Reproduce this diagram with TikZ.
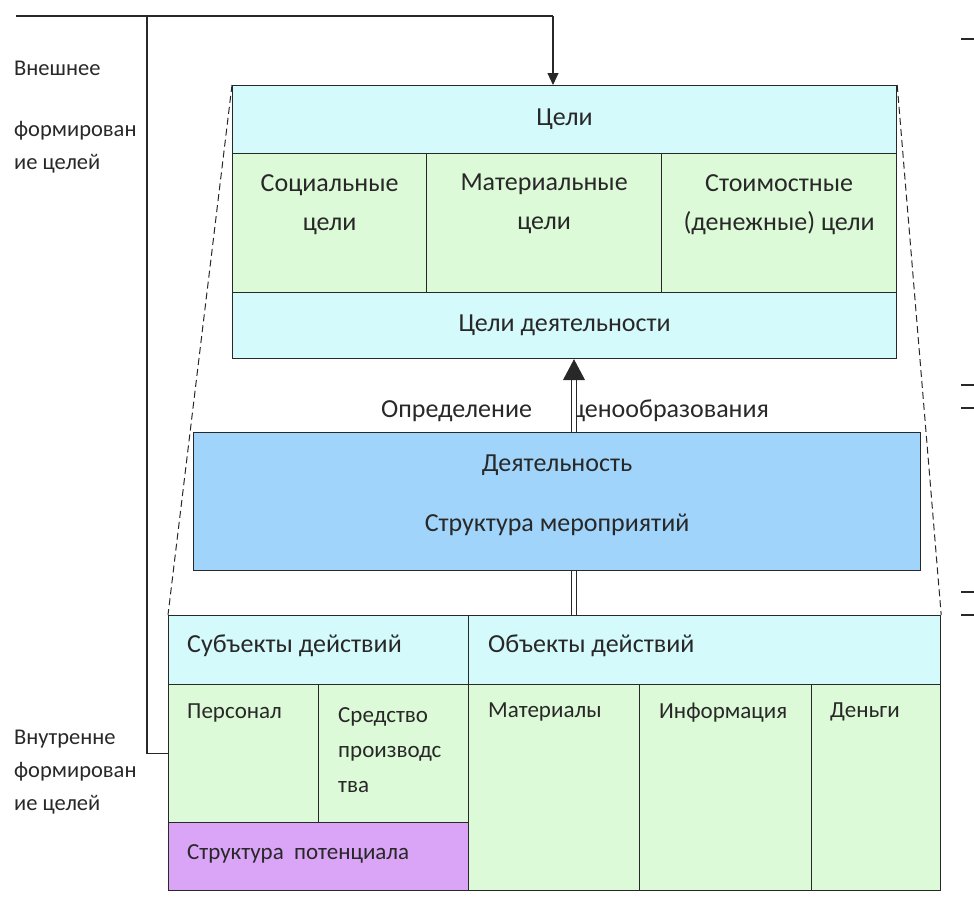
\documentclass[tikz,border=0pt]{standalone}
\usepackage{fontspec}
\setmainfont{Carlito}
\usetikzlibrary{arrows.meta, positioning}
\definecolor{hdrcyan}{RGB}{213,250,252}
\definecolor{cellgreen}{RGB}{221,250,216}
\definecolor{actblue}{RGB}{160,212,250}
\definecolor{potpurple}{RGB}{218,164,247}
\definecolor{ink}{RGB}{40,40,40}

\begin{document}
\begin{tikzpicture}[x=1pt, y=-1pt,
  cell/.style={draw=ink, line width=1.2pt, anchor=north west, inner sep=0pt,
               font=\fontsize{26}{39}\selectfont, text=ink},
  txt/.style={font=\fontsize{26}{39}\selectfont, text=ink, inner sep=0pt, align=center},
  ltxt/.style={txt, align=left, anchor=north west},
  small/.style={font=\fontsize{23}{35}\selectfont},
  side/.style={font=\fontsize{22.5}{33}\selectfont, text=ink, inner sep=0pt, align=left, anchor=north west},
  conn/.style={draw=ink, line width=1.1pt},
  dbl/.style={draw=ink, line width=0.9pt, double=white, double distance=3.5pt},
  guide/.style={draw=ink, line width=1pt, dash pattern=on 7pt off 4pt}]
  \useasboundingbox (0,0) rectangle (974,913);

  % goals block
  \node[cell, fill=hdrcyan, minimum width=664pt, minimum height=68pt] (celi) at (232,85) {Цели};
  \node[cell, fill=cellgreen, minimum width=194pt, minimum height=139pt] (soc) at (232,153) {};
  \node[cell, fill=cellgreen, minimum width=235pt, minimum height=139pt] (mat) at (426,153) {};
  \node[cell, fill=cellgreen, minimum width=235pt, minimum height=139pt] (stm) at (661,153) {};
  \node[cell, fill=hdrcyan, minimum width=664pt, minimum height=66pt] (celdey) at (232,292) {Цели деятельности};
  \node[txt, below=21pt of soc.north] (soct) {Социальные\\цели};
  \node[txt, below=21pt of mat.north] (matt) {Материальные\\цели};
  \node[txt, below=21pt of stm.north] (stmt) {Стоимостные\\(денежные) цели};

  % activity block
  \node[cell, fill=actblue, minimum width=727pt, minimum height=138pt] (deyat) at (193,432) {};
  \node[txt, below=23pt of deyat.north] (deyatt) {Деятельность\\[21pt]Структура мероприятий};

  % actions block
  \node[cell, fill=hdrcyan, minimum width=300pt, minimum height=69pt] (subj) at (168,615) {};
  \node[cell, fill=hdrcyan, minimum width=472pt, minimum height=69pt] (obj) at (468,615) {};
  \node[cell, fill=cellgreen, minimum width=150pt, minimum height=138pt] (pers) at (168,684) {};
  \node[cell, fill=cellgreen, minimum width=150pt, minimum height=138pt] (sred) at (318,684) {};
  \node[cell, fill=potpurple, minimum width=300pt, minimum height=68pt] (struk) at (168,822) {};
  \node[cell, fill=cellgreen, minimum width=171pt, minimum height=206pt] (mater) at (468,684) {};
  \node[cell, fill=cellgreen, minimum width=172pt, minimum height=206pt] (inform) at (639,684) {};
  \node[cell, fill=cellgreen, minimum width=129pt, minimum height=206pt] (dengi) at (811,684) {};
  \node[ltxt, below right=20pt and 19pt of subj.north west] (subjt) {Субъекты действий};
  \node[ltxt, below right=20pt and 20pt of obj.north west] (objt) {Объекты действий};
  \node[ltxt, small, below right=20pt and 19pt of pers.north west] (perst) {Персонал};
  \node[ltxt, small, below right=23pt and 20pt of sred.north west] (sredt) {Средство\\производс\\тва};
  \node[ltxt, small, below right=22pt and 19pt of struk.north west] (strukt) {Структура\ \ потенциала};
  \node[ltxt, small, below right=19pt and 20pt of mater.north west] (matert) {Материалы};
  \node[ltxt, small, below right=19pt and 20pt of inform.north west] (informt) {Информация};
  \node[ltxt, small, below right=19pt and 19pt of dengi.north west] (dengit) {Деньги};

  % side labels
  \node[side] (vnesh) at (14,61) {Внешнее\\[28pt]формирован\\ие целей};
  \node[side] (vnutr) at (14,730) {Внутренне\\формирован\\ие целей};
  \node[txt] (opred) at (575,411) {Определение\hspace{39pt}ценообразования};

  % connectors
  \coordinate (topL) at (16,16);
  \coordinate (jn) at (147,16);
  \coordinate (topR) at (553,16);
  \coordinate (ax) at (574,400);
  \draw[conn] (topL) -- (topR);
  \draw[conn, -{Triangle[length=12pt, width=11pt]}] (topR) -- (topR |- celi.north);
  \draw[conn] (jn) |- (pers.west);
  \draw[dbl, -{Triangle[length=21pt, width=22pt]}] (ax |- deyat.north) -- (ax |- celdey.south);
  \draw[dbl] (ax |- subj.north) -- (ax |- deyat.south);
  \draw[guide] (celi.north west) -- (subj.north west);
  \draw[guide] (celi.north east) -- (obj.north east);

  % cut-off marks at right edge
  \foreach \yy in {39,385,408,592,615}
    \draw[conn] (961,\yy) -- (974,\yy);
\end{tikzpicture}
\end{document}
